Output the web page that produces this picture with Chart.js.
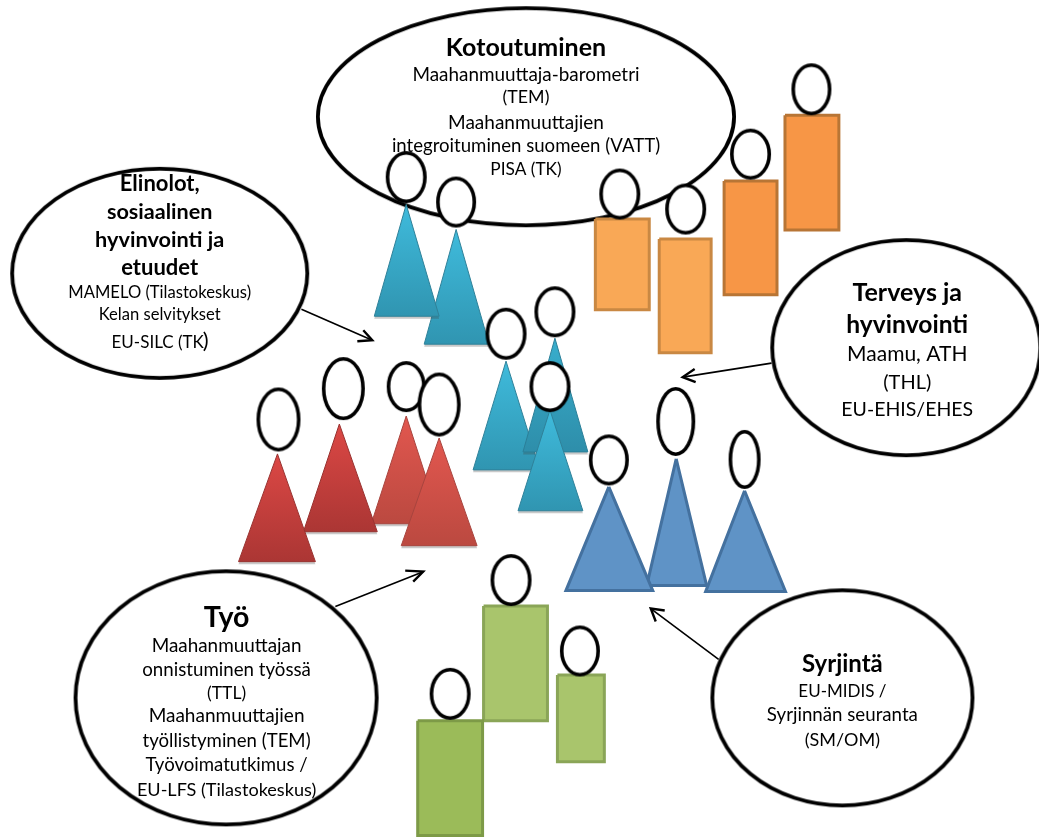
<!DOCTYPE html>
<html lang="fi"><head><meta charset="utf-8"><title>Kaavio</title>
<style>html,body{margin:0;padding:0;background:#fff}canvas{display:block;filter:blur(0.35px)}</style>
<script src="https://cdn.jsdelivr.net/npm/chart.js@4"></script></head>
<body><canvas id="c" width="1039" height="838"></canvas>
<script>
// Speech bubbles
const bubbleX=[526,159,907,225.5,843];
const bubbleY=[116,273,347.5,698.5,698.5];
const bubbleRx=[210,149.5,136,152.5,132];
const bubbleRy=[110.5,106.5,109.5,128.5,109.5];
// Arrows: from, tip, barb A, barb B
const arrowFromX=[301,772,335,719];
const arrowFromY=[309,363,607,660];
const arrowTipX=[372,683,423,651];
const arrowTipY=[340,377,572,609];
const barbAX=[363,695,405,665];
const barbAY=[330,369,571,611];
const barbBX=[357,696,413,656];
const barbBY=[341,382,582,622];
// Heads
const headX=[620,686,751,812, 456,406,555,506,550, 406,343,278,439, 676,609,745, 511,450,580];
const headY=[193.5,208.5,153.5,88.5, 201.5,176.5,311.5,333.5,386.5, 386.5,388.5,419.5,404.5, 421.5,460,459.5, 580.5,694.5,651.5];
const headRx=[20.5,20.5,20.5,20, 20,20.5,20.5,20.5,20.5, 19.5,21.5,22,21.5, 19.5,20,16, 20.5,20.5,20];
const headRy=[25.5,25.5,25.5,26, 25.5,26,25.5,26,25.5, 25.5,31.5,32,32, 34.5,25.5,29.5, 26,26,25.5];
// Triangular bodies
const triApexX=[456,406,555,506,550, 406,339,277,439, 676.5,609,745];
const triApexY=[229,204,338,361,410, 416,424,454,438, 459,487,491];
const triLeft=[424,374,523,473,518, 371,303,238,401, 647,566,706];
const triRight=[489,439,588,540,583, 441,377,315,477, 707,653,786];
const triBase=[344,316,452,470,511, 524,532,562,546, 586,591,592];
const triTop=["#3fbbdc","#3fbbdc","#38aecd","#3fbbdc","#3fbbdc","#e2574f","#dc4845","#dc4845","#e2574f","#5f93c6","#5f93c6","#5f93c6"];
const triBottom=["#3095b1","#3095b1","#2e8eaa","#3095b1","#3095b1","#bb4940","#ab3634","#ab3634","#bb4940","#5f93c6","#5f93c6","#5f93c6"];
const triEdge=["#2f8199","#2f8199","#2b7f98","#2f8199","#2f8199","#a8443e","#983230","#983230","#a8443e","#44719f","#44719f","#44719f"];
// Rectangular bodies
const rectLeft=[594,658,723,784, 482,416,556];
const rectRight=[651,713,779,841, 549,484,606];
const rectTop=[217,237,179,113, 605,720,674];
const rectBottom=[311,354,296,231, 723,838,764];
const rectFill=["#f9a856","#f9a856","#f79646","#f79646","#a9c56c","#9bbb59","#a9c56c"];
const rectEdge=["#c98843","#c98843","#b87535","#b87535","#8aa557","#7d9a47","#8aa557"];
// Paint order: b=body index by type, h=head index
const paintOrder=[["r",0,0],["r",1,1],["r",2,2],["r",3,3],
 ["t",0,4],["t",1,5],["t",3,7],["t",2,6],["t",4,8],
 ["t",5,9],["t",6,10],["t",7,11],["t",8,12],
 ["t",9,13],["t",10,14],["t",11,15],
 ["r",4,16],["r",5,17],["r",6,18]];
// Texts
const labelText=["Kotoutuminen","Maahanmuuttaja-barometri","(TEM)","Maahanmuuttajien","integroituminen suomeen (VATT)","PISA (TK)",
 "Elinolot,","sosiaalinen","hyvinvointi ja","etuudet","MAMELO (Tilastokeskus)","Kelan selvitykset","EU-SILC (TK",")",
 "Terveys ja","hyvinvointi","Maamu, ATH","(THL)","EU-EHIS/EHES",
 "Työ","Maahanmuuttajan","onnistuminen työssä","(TTL)","Maahanmuuttajien","työllistyminen (TEM)","Työvoimatutkimus /","EU-LFS (Tilastokeskus)",
 "Syrjintä","EU-MIDIS /","Syrjinnän seuranta","(SM/OM)"];
const labelX=[526,526,526,526,526,526, 159,159,159,159,159,159,157,205, 908,908,908,908,908, 226,226,226,226,226,226,226,226, 843,843,843,843];
const labelY=[47,74,97,122,145,169, 183,212,240,268,292,314,342,341, 293,325,354,382,410, 618,646,671,694,717,742,766,791, 665,692,716,741];
const labelSize=[25,18.9,17.8,19,18.6,17.3, 22,21.6,21.7,22,16.6,16.6,17,22, 25,24.6,21,20,19.5, 28.5,18.9,18.7,17.5,19,18.6,18.6,18.1, 24,17,18.7,18];
const labelBold=[1,0,0,0,0,0, 1,1,1,1,0,0,0,0, 1,1,0,0,0, 1,0,0,0,0,0,0,0, 1,0,0,0];

function ellipseStyle(rx,ry,lw){
  const pad=2,c=document.createElement('canvas');
  c.width=Math.ceil(2*rx+2*pad);c.height=Math.ceil(2*ry+2*pad);
  const g=c.getContext('2d');
  g.beginPath();g.ellipse(c.width/2,c.height/2,rx-lw/2,ry-lw/2,0,0,Math.PI*2);
  g.fillStyle='#fff';g.fill();g.lineWidth=lw;g.strokeStyle='#000';g.stroke();
  return c;
}
function ellipseSet(x,y,style){return {type:'scatter',data:[{x,y}],showLine:false,fill:false,clip:false,
  pointStyle:style,pointRadius:1,pointHoverRadius:1,borderWidth:0};}
function polySet(points,o){return Object.assign({type:'scatter',data:points,showLine:true,clip:false,tension:0,
  pointRadius:0,pointHoverRadius:0,borderJoinStyle:'miter',borderCapStyle:'butt'},o);}

const sets=[];
bubbleX.forEach((x,i)=>sets.push(ellipseSet(x,bubbleY[i],ellipseStyle(bubbleRx[i],bubbleRy[i],3.8))));
arrowTipX.forEach((x,i)=>{
  sets.push(polySet([{x:arrowFromX[i],y:arrowFromY[i]},{x,y:arrowTipY[i]}],{borderColor:'#000',borderWidth:1.6,fill:false}));
  sets.push(polySet([{x:barbAX[i],y:barbAY[i]},{x,y:arrowTipY[i]},{x:barbBX[i],y:barbBY[i]}],{borderColor:'#000',borderWidth:2.4,fill:false}));
});
function triangle(i){
  const dropped=i<9;
  const pts=d=>[{x:triApexX[i],y:triApexY[i]+d},{x:triRight[i],y:triBase[i]+d},{x:triLeft[i],y:triBase[i]+d},{x:triApexX[i],y:triApexY[i]+d}];
  if(dropped) sets.push(polySet(pts(2.5),{borderWidth:0,borderColor:'rgba(0,0,0,0)',backgroundColor:'rgba(60,60,60,.28)',fill:'shape'}));
  sets.push(polySet(pts(0),{borderWidth:dropped?1:3,borderColor:triEdge[i],fill:'shape',
    backgroundColor:ctx=>{
      const ch=ctx.chart,s=ch.scales.y;
      const y0=s?s.getPixelForValue(triApexY[i]):NaN,y1=s?s.getPixelForValue(triBase[i]):NaN;
      if(!Number.isFinite(y0)||!Number.isFinite(y1)) return triTop[i];
      const g=ch.ctx.createLinearGradient(0,y0,0,y1);
      g.addColorStop(0,triTop[i]);g.addColorStop(1,triBottom[i]);return g;
    }}));
}
function rectangle(i){
  const l=rectLeft[i]+1.5,r=rectRight[i]-1.5,t=rectTop[i]+1.5,b=rectBottom[i]-1.5;
  sets.push(polySet([{x:l,y:t},{x:r,y:t},{x:r,y:b},{x:l,y:b},{x:l,y:t}],{borderWidth:3,borderColor:rectEdge[i],backgroundColor:rectFill[i],fill:'shape'}));
}
paintOrder.forEach(([kind,b,h])=>{
  if(kind==='t') triangle(b); else rectangle(b);
  sets.push(ellipseSet(headX[h],headY[h],ellipseStyle(headRx[h],headRy[h],3.6)));
});
sets.forEach((d,i)=>{d.order=sets.length-i;});

const labels={id:'labels',afterDatasetsDraw(chart){
  const {ctx,scales:{x,y}}=chart;
  ctx.save();ctx.textAlign='center';ctx.textBaseline='middle';ctx.fillStyle='#000';
  labelText.forEach((t,i)=>{
    ctx.font=(labelBold[i]?'bold ':'')+labelSize[i]+'px Lato, Carlito, sans-serif';
    ctx.fillText(t,x.getPixelForValue(labelX[i]),y.getPixelForValue(labelY[i]));
  });
  ctx.restore();
}};

document.fonts.load('17px Lato').finally(()=>{
new Chart(document.getElementById('c'),{
  type:'scatter',
  data:{datasets:sets},
  plugins:[labels],
  options:{responsive:false,animation:false,events:[],
    layout:{padding:0},
    plugins:{legend:{display:false},title:{display:false},tooltip:{enabled:false}},
    scales:{x:{type:'linear',min:0,max:1039,display:false},
            y:{type:'linear',min:0,max:838,reverse:true,display:false}}}
});
});
</script></body></html>
